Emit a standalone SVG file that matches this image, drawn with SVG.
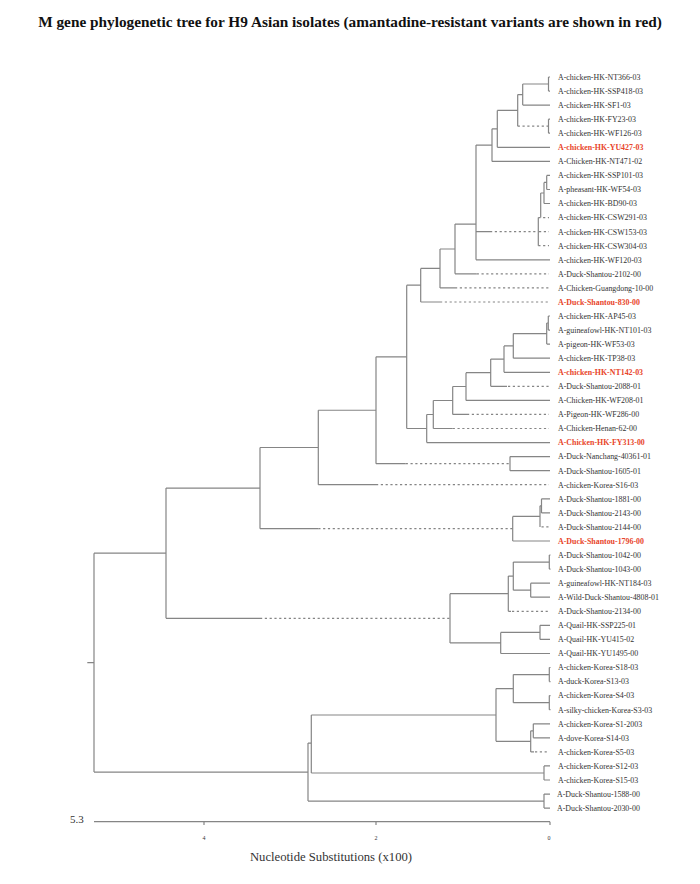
<svg xmlns="http://www.w3.org/2000/svg" width="700" height="884" viewBox="0 0 700 884">
<style>
.b{fill:none;stroke:#858585;stroke-width:1.2}
.d{fill:none;stroke:#858585;stroke-width:1.2;stroke-dasharray:2.2 2.6}
.t{font-family:"Liberation Serif","Times New Roman",serif;font-size:7.9px;fill:#333}
.r{font-family:"Liberation Serif","Times New Roman",serif;font-size:7.9px;fill:#e8452a;font-weight:bold}
.title{font-family:"Liberation Serif","Times New Roman",serif;font-size:15.3px;font-weight:bold;fill:#111}
.ax{font-family:"Liberation Serif","Times New Roman",serif;fill:#333}
</style>
<rect width="700" height="884" fill="#fff"/>
<text class="title" x="350" y="27" text-anchor="middle">M gene phylogenetic tree for H9 Asian isolates (amantadine-resistant variants are shown in red)</text>
<g id="connectors">
<path class="b" d="M548.5,77H550M548.5,91.1H550M548.5,77V91.1M522.7,84H548.5M522.7,105.1H550M522.7,84V105.1M548.5,119.2H550M548.5,133.2H550M548.5,119.2V133.2M517.7,94.6H522.7M517.7,94.6V126.2M497.3,110.4H517.7M497.3,110.4V147.3M497.3,147.3H550M492,128.85H497.3M492,128.85V161.4M492,161.4H550M476,145.1H492M476,145.1V259.8M476,259.8H550M476,231.7H490"/>
<path class="d" d="M517.7,126.2H548.5M490,231.7H538.3M538.3,217.6H549M539,231.7H549M538.3,245.7H549"/>
<path class="b" d="M538.3,217.6V245.7M540.7,193V217.6M540.7,193H544M544,182.45V203.5M544,203.5H550M544,182.45H546.7M546.7,175.4V189.5M546.7,175.4H550M546.7,189.5H550"/>
<path class="b" d="M455,224.1H476M455,224.1V273.8M455,273.8H476.7M440,249H455M440,249V287.9M440,287.9H455M420.7,268.45H440M420.7,268.45V302M420.7,302H440M406.7,285.2H420.7M406.7,285.2V428.5M406.7,428.5H426.7"/>
<path class="d" d="M476.7,273.8H549M455,287.9H549M440,302H549"/>
<path class="b" d="M426.7,414.5V442.6M426.7,442.6H550M426.7,414.5H433.3M433.3,400.5V428.5M433.3,428.5H452.7M433.3,400.5H452.7M452.7,386.5V414.4M452.7,414.4H467M452.7,386.5H466M466,372.7V400.4M466,400.4H550M466,372.7H490.7M490.7,359.1V386.3M490.7,386.3H507M490.7,359.1H504M504,345.9V372.3M504,372.3H550M504,345.9H513.3M513.3,333.6V358.2M513.3,358.2H550M513.3,333.6H546.7M546.7,323V344.1M546.7,344.1H550M546.7,323H548.3M548.3,316V330.1M548.3,316H550M548.3,330.1H550"/>
<path class="d" d="M452.7,428.5H549M467,414.4H549M508,386.3H549"/>
<path class="b" d="M376,356.85H406.7M376,356.85V463.65M376,463.65H405.7M510,456.6V470.7M510,456.6H550M510,470.7H550M318.3,410.25H376M318.3,410.25V484.7M318.3,484.7H376M260,447.5H318.3M260,447.5V528.7M260,528.7H318.3"/>
<path class="d" d="M405.7,463.65H510M376,484.7H549M318.3,528.7H512.7"/>
<path class="b" d="M512.7,516.4V541M512.7,541H550M512.7,516.4H540M540,505.8V526.9M540,505.8H541.5M541.5,498.8V512.9M541.5,498.8H550M541.5,512.9H550"/>
<path class="d" d="M541.5,526.9H549"/>
<path class="b" d="M166,488.1H260M166,488.1V618.3M166,618.3H260M450,593.7V642.9M450,593.7H508.3M450,642.9H500.7M508.3,576.1V611.3M508.3,611.3H511M508.3,576.1H513.3M513.3,562.1V590.2M513.3,562.1H549.3M513.3,590.2H530.7M549.3,555V569.1M549.3,555H550.5M549.3,569.1H550.5M530.7,583.2V597.2M530.7,583.2H550M530.7,597.2H550M500.7,632.4V653.5M500.7,653.5H550M500.7,632.4H540M540,625.3V639.4M540,625.3H550M540,639.4H550"/>
<path class="d" d="M260,618.3H450M512,611.3H549"/>
<path class="b" d="M94,553.2H166M94,553.2V772.1M87.3,662.6H94M94,772.1H308M308,743.1V801.1M308,743.1H311.3M308,801.1H544M311.3,715V773M311.3,715H496M311.3,773H544M544,765.9V780M544,765.9H550M544,780H550M544,794.1V808.1M544,794.1H550M544,808.1H550M496,688.6V741.3M496,688.6H513.3M496,741.3H530.7M513.3,674.55V702.65M513.3,674.55H549.3M513.3,702.65H549.3M549.3,667.5V681.6M549.3,667.5H550.5M549.3,681.6H550.5M549.3,695.6V709.7M549.3,695.6H550.5M549.3,709.7H550.5M530.7,730.8V751.9M530.7,730.8H533.3M530.7,751.9H534M533.3,723.8V737.8M533.3,723.8H550M533.3,737.8H550"/>
<path class="d" d="M535,751.9H549"/>
</g>
<g id="leaves">
<g id="n0"><text class="t" x="558" y="79.8">A-chicken-HK-NT366-03</text></g>
<g id="n1"><text class="t" x="558" y="93.9">A-chicken-HK-SSP418-03</text></g>
<g id="n2"><text class="t" x="558" y="107.9">A-chicken-HK-SF1-03</text></g>
<g id="n3"><text class="t" x="558" y="122">A-chicken-HK-FY23-03</text></g>
<g id="n4"><text class="t" x="558" y="136">A-chicken-HK-WF126-03</text></g>
<g id="n5"><text class="r" x="558" y="150.1">A-chicken-HK-YU427-03</text></g>
<g id="n6"><text class="t" x="558" y="164.2">A-Chicken-HK-NT471-02</text></g>
<g id="n7"><text class="t" x="558" y="178.2">A-chicken-HK-SSP101-03</text></g>
<g id="n8"><text class="t" x="558" y="192.3">A-pheasant-HK-WF54-03</text></g>
<g id="n9"><text class="t" x="558" y="206.3">A-chicken-HK-BD90-03</text></g>
<g id="n10"><text class="t" x="558" y="220.4">A-chicken-HK-CSW291-03</text></g>
<g id="n11"><text class="t" x="558" y="234.5">A-chicken-HK-CSW153-03</text></g>
<g id="n12"><text class="t" x="558" y="248.5">A-chicken-HK-CSW304-03</text></g>
<g id="n13"><text class="t" x="558" y="262.6">A-chicken-HK-WF120-03</text></g>
<g id="n14"><text class="t" x="558" y="276.6">A-Duck-Shantou-2102-00</text></g>
<g id="n15"><text class="t" x="558" y="290.7">A-Chicken-Guangdong-10-00</text></g>
<g id="n16"><text class="r" x="558" y="304.8">A-Duck-Shantou-830-00</text></g>
<g id="n17"><text class="t" x="558" y="318.8">A-chicken-HK-AP45-03</text></g>
<g id="n18"><text class="t" x="558" y="332.9">A-guineafowl-HK-NT101-03</text></g>
<g id="n19"><text class="t" x="558" y="346.9">A-pigeon-HK-WF53-03</text></g>
<g id="n20"><text class="t" x="558" y="361">A-chicken-HK-TP38-03</text></g>
<g id="n21"><text class="r" x="558" y="375.1">A-chicken-HK-NT142-03</text></g>
<g id="n22"><text class="t" x="558" y="389.1">A-Duck-Shantou-2088-01</text></g>
<g id="n23"><text class="t" x="558" y="403.2">A-Chicken-HK-WF208-01</text></g>
<g id="n24"><text class="t" x="558" y="417.2">A-Pigeon-HK-WF286-00</text></g>
<g id="n25"><text class="t" x="558" y="431.3">A-Chicken-Henan-62-00</text></g>
<g id="n26"><text class="r" x="558" y="445.4">A-Chicken-HK-FY313-00</text></g>
<g id="n27"><text class="t" x="558" y="459.4">A-Duck-Nanchang-40361-01</text></g>
<g id="n28"><text class="t" x="558" y="473.5">A-Duck-Shantou-1605-01</text></g>
<g id="n29"><text class="t" x="558" y="487.5">A-chicken-Korea-S16-03</text></g>
<g id="n30"><text class="t" x="558" y="501.6">A-Duck-Shantou-1881-00</text></g>
<g id="n31"><text class="t" x="558" y="515.7">A-Duck-Shantou-2143-00</text></g>
<g id="n32"><text class="t" x="558" y="529.7">A-Duck-Shantou-2144-00</text></g>
<g id="n33"><text class="r" x="558" y="543.8">A-Duck-Shantou-1796-00</text></g>
<g id="n34"><text class="t" x="558" y="557.8">A-Duck-Shantou-1042-00</text></g>
<g id="n35"><text class="t" x="558" y="571.9">A-Duck-Shantou-1043-00</text></g>
<g id="n36"><text class="t" x="558" y="586">A-guineafowl-HK-NT184-03</text></g>
<g id="n37"><text class="t" x="558" y="600">A-Wild-Duck-Shantou-4808-01</text></g>
<g id="n38"><text class="t" x="558" y="614.1">A-Duck-Shantou-2134-00</text></g>
<g id="n39"><text class="t" x="558" y="628.1">A-Quail-HK-SSP225-01</text></g>
<g id="n40"><text class="t" x="558" y="642.2">A-Quail-HK-YU415-02</text></g>
<g id="n41"><text class="t" x="558" y="656.3">A-Quail-HK-YU1495-00</text></g>
<g id="n42"><text class="t" x="558" y="670.3">A-chicken-Korea-S18-03</text></g>
<g id="n43"><text class="t" x="558" y="684.4">A-duck-Korea-S13-03</text></g>
<g id="n44"><text class="t" x="558" y="698.4">A-chicken-Korea-S4-03</text></g>
<g id="n45"><text class="t" x="558" y="712.5">A-silky-chicken-Korea-S3-03</text></g>
<g id="n46"><text class="t" x="558" y="726.6">A-chicken-Korea-S1-2003</text></g>
<g id="n47"><text class="t" x="558" y="740.6">A-dove-Korea-S14-03</text></g>
<g id="n48"><text class="t" x="558" y="754.7">A-chicken-Korea-S5-03</text></g>
<g id="n49"><text class="t" x="558" y="768.7">A-chicken-Korea-S12-03</text></g>
<g id="n50"><text class="t" x="558" y="782.8">A-chicken-Korea-S15-03</text></g>
<g id="n51"><text class="t" x="557" y="796.9">A-Duck-Shantou-1588-00</text></g>
<g id="n52"><text class="t" x="557" y="810.9">A-Duck-Shantou-2030-00</text></g>
</g>
<g id="scale">
<path class="b" d="M94,821.7H550M204,821.7V825M376,821.7V825M550,821.7V825"/>
<text class="ax" x="70" y="823" font-size="11">5.3</text>
<text class="ax" x="204" y="840" font-size="6" text-anchor="middle">4</text>
<text class="ax" x="376" y="840" font-size="6" text-anchor="middle">2</text>
<text class="ax" x="549" y="840" font-size="6" text-anchor="middle">0</text>
<text class="ax" x="331" y="861" font-size="12.7" text-anchor="middle">Nucleotide Substitutions (x100)</text>
</g>
</svg>
